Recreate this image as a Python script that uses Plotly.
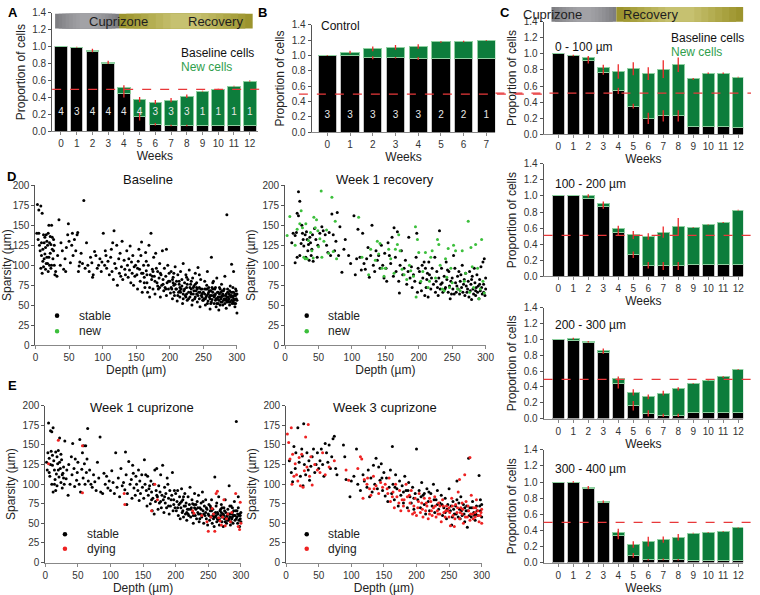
import plotly.graph_objects as go

W, H = 760, 595
FONT = "Liberation Sans, Arial, sans-serif"

# ---------------- bar data ----------------
weeks13 = list(range(13))
weeks8 = list(range(8))

a_base = [1.0, 0.99, 0.94, 0.80, 0.45, 0.18, 0.085, 0.07, 0.07, 0.075, 0.075, 0.075, 0.07]
a_total = [1.0, 0.995, 0.955, 0.815, 0.515, 0.375, 0.345, 0.37, 0.415, 0.475, 0.50, 0.535, 0.595]
a_err_total = [0.0, 0.005, 0.02, 0.02, 0.03, 0.03, 0.025, 0.025, 0.02, 0.005, 0.005, 0.005, 0.005]
a_err_base = [0.0, 0.0, 0.0, 0.0, 0.05, 0.05, 0.015, 0.01, 0.01, 0.0, 0.0, 0.0, 0.0]
a_n = [4, 3, 4, 4, 4, 4, 3, 3, 3, 1, 1, 1, 1]

b_base = [1.0, 1.0, 0.97, 0.97, 0.96, 0.96, 0.96, 0.96]
b_total = [1.0, 1.04, 1.085, 1.105, 1.115, 1.175, 1.18, 1.195]
b_err_total = [0.005, 0.02, 0.03, 0.03, 0.03, 0.01, 0.01, 0.005]
b_err_base = [0.0, 0.0, 0.02, 0.01, 0.02, 0.0, 0.0, 0.0]
b_n = [3, 3, 3, 3, 3, 2, 2, 1]

c1_base = [1.0, 0.98, 0.92, 0.77, 0.54, 0.35, 0.20, 0.23, 0.23, 0.10, 0.10, 0.10, 0.09]
c1_total = [1.0, 0.98, 0.955, 0.835, 0.78, 0.815, 0.755, 0.81, 0.865, 0.69, 0.76, 0.76, 0.71]
c1_err_total = [0.0, 0.01, 0.02, 0.03, 0.09, 0.08, 0.08, 0.11, 0.09, 0.01, 0.01, 0.01, 0.005]
c1_err_base = [0.0, 0.0, 0.04, 0.03, 0.04, 0.03, 0.07, 0.07, 0.07, 0.0, 0.0, 0.0, 0.0]

c2_base = [1.0, 1.0, 0.97, 0.87, 0.54, 0.27, 0.14, 0.13, 0.13, 0.15, 0.15, 0.15, 0.15]
c2_total = [1.0, 1.0, 1.0, 0.90, 0.60, 0.515, 0.495, 0.55, 0.615, 0.61, 0.64, 0.67, 0.825]
c2_err_total = [0.0, 0.0, 0.02, 0.03, 0.03, 0.05, 0.04, 0.07, 0.11, 0.005, 0.005, 0.005, 0.005]
c2_err_base = [0.0, 0.0, 0.0, 0.03, 0.03, 0.04, 0.04, 0.05, 0.05, 0.0, 0.0, 0.0, 0.0]

c3_base = [1.0, 0.99, 0.96, 0.83, 0.44, 0.16, 0.065, 0.04, 0.04, 0.075, 0.075, 0.075, 0.075]
c3_total = [1.0, 1.01, 0.97, 0.855, 0.50, 0.33, 0.275, 0.32, 0.375, 0.44, 0.485, 0.525, 0.62]
c3_err_total = [0.0, 0.01, 0.01, 0.03, 0.03, 0.04, 0.03, 0.03, 0.02, 0.005, 0.005, 0.01, 0.005]
c3_err_base = [0.0, 0.0, 0.0, 0.01, 0.06, 0.06, 0.04, 0.02, 0.02, 0.0, 0.0, 0.0, 0.0]

c4_base = [1.0, 0.99, 0.92, 0.745, 0.34, 0.09, 0.035, 0.04, 0.035, 0.03, 0.025, 0.025, 0.025]
c4_total = [1.0, 1.0, 0.93, 0.755, 0.37, 0.225, 0.26, 0.285, 0.315, 0.365, 0.375, 0.385, 0.43]
c4_err_total = [0.0, 0.01, 0.02, 0.015, 0.05, 0.04, 0.06, 0.04, 0.04, 0.005, 0.005, 0.005, 0.005]
c4_err_base = [0.0, 0.0, 0.0, 0.0, 0.05, 0.03, 0.01, 0.01, 0.01, 0.0, 0.0, 0.0, 0.0]

# ---------------- scatter data (depth um, sparsity um) ----------------
baseline_stable = [
    (3,176),(5,169),(8,174),(10,165),(2,140),(4,132),(6,125),(7,118),(9,112),(11,105),(12,98),(13,128),(14,135),
    (15,122),(16,138),(17,110),(18,102),(19,140),(20,150),(21,128),(22,115),(23,96),(24,150),(25,120),(26,108),
    (27,132),(28,100),(29,88),(30,92),(8,96),(10,90),(12,138),(15,95),(18,125),(20,110),(22,136),(25,135),(27,118),
    (5,140),(9,128),(13,108),(16,102),(19,92),(24,100),(28,125),(11,120),(17,130),(21,100),(14,114),(23,126),
    (32,86),(33,112),(35,157),(37,100),(38,128),(40,118),(42,95),(44,108),(46,122),(48,138),(49,152),(50,130),
    (52,103),(54,125),(56,112),(58,132),(60,118),(62,138),(63,141),(64,92),(66,104),(68,115),(70,102),(72,181),
    (74,96),(76,128),(78,100),(80,92),(82,110),(84,103),(86,88),(88,117),(90,112),(92,96),(94,100),(96,108),
    (98,92),(99,104),(45,92),(55,140),(65,99),(85,85),
    (101,140),(103,100),(104,118),(106,96),(108,105),(110,88),(112,110),(114,92),(115,128),(116,82),(117,143),
    (118,102),(120,96),(121,125),(122,75),(124,108),(125,90),(126,115),(128,98),(129,130),(130,82),(132,106),
    (133,95),(134,88),(136,118),(137,100),(138,85),(140,94),(141,124),(142,78),(143,104),(144,90),(145,112),
    (146,75),(147,98),(148,86),(149,100),(105,112),(113,120),(127,86),(139,108),
    (151,88),(152,70),(153,105),(155,95),(156,80),(157,112),(158,129),(159,66),(160,90),(161,100),(162,85),
    (163,72),(164,116),(165,93),(166,78),(168,100),(169,125),(170,60),(171,88),(172,140),(173,82),(174,95),
    (175,70),(176,110),(177,86),(178,64),(180,96),(181,78),(182,92),(183,70),(184,84),(185,102),(186,60),
    (187,88),(188,75),(189,118),(190,82),(191,68),(192,96),(193,72),(194,86),(195,62),(196,78),(197,100),
    (198,70),(199,90),(154,120),(167,66),(179,115),(195,120),
    (152,96),(158,90),(162,78),(166,88),(170,72),(174,86),(178,80),(182,74),(186,90),(190,76),(194,70),
    (198,80),(185,72),(175,92),(165,105),
    (200,80),(201,65),(202,92),(203,70),(204,58),(205,85),(206,75),(207,62),(208,98),(209,70),(210,80),
    (211,55),(212,88),(213,66),(214,76),(215,60),(216,92),(217,70),(218,82),(219,52),(220,102),(221,68),
    (222,78),(223,62),(224,88),(225,72),(226,56),(227,82),(228,66),(229,94),(230,60),(231,76),(232,70),
    (233,50),(234,84),(235,64),(236,74),(237,58),(238,90),(239,68),(240,78),(241,54),(242,97),(243,66),
    (244,72),(245,48),(246,82),(247,62),(248,70),(249,56),(225,85),(215,72),(232,80),(240,64),(206,90),
    (244,88),(220,58),(238,76),
    (202,72),(204,82),(206,66),(208,76),(210,70),(212,62),(214,80),(216,66),(218,74),(220,64),(222,70),
    (224,60),(226,76),(228,58),(230,72),(232,64),(234,56),(236,68),(238,60),(240,72),(242,62),(244,58),
    (246,70),(248,64),(245,66),(235,72),(225,64),(215,68),(205,78),(248,60),(241,70),(231,66),
    (250,66),(251,58),(252,80),(253,50),(254,70),(255,62),(256,92),(257,55),(258,72),(259,60),(260,45),
    (261,68),(262,110),(263,57),(264,78),(265,62),(266,52),(267,70),(268,64),(269,48),(270,84),(271,58),
    (272,66),(273,44),(274,72),(275,60),(276,54),(277,76),(278,62),(279,50),(280,68),(281,58),(282,86),
    (283,62),(284,46),(285,163),(286,70),(287,56),(288,64),(289,50),(290,74),(291,60),(292,101),(293,66),
    (294,54),(295,92),(296,62),(297,48),(298,70),(299,58),(300,40),(300,64),(252,64),(256,70),(260,58),
    (264,66),(268,56),(272,60),(276,66),(280,56),(284,64),(288,58),(292,62),(296,56),(298,52),(255,75),
    (265,80),(275,70),(285,60),(295,66),(270,52),(290,54),(262,62),(278,68),(294,72),
    (250,56),(252,70),(254,60),(256,52),(258,66),(260,62),(262,54),(264,70),(266,60),(268,72),(270,58),
    (272,52),(274,64),(276,58),(278,54),(280,62),(282,52),(284,58),(286,66),(288,54),(290,62),(292,56),
    (294,60),(296,52),(298,62),(299,68),(253,58),(257,64),(261,52),(267,62),(271,66),(275,50),(279,64),
    (283,56),(287,60),(291,66),(295,58),(297,64),(259,68),(263,72),(273,56),(281,70),(289,68),(293,52),
    (277,60),(269,58),(300,56),(285,54),
]

recovery_stable = [
    (15,103),(15,137),(17,141),(18,165),(20,162),(20,192),(22,180),(22,112),(24,127),(25,150),(26,140),
    (27,132),(28,124),(30,138),(31,110),(32,142),(34,118),(35,126),(36,106),(37,135),(38,128),(40,120),
    (41,138),(42,105),(44,146),(46,132),(48,110),(49,125),(10,128),(12,140),(18,110),(33,132),(39,112),
    (52,140),(55,148),(57,143),(60,138),(62,125),(64,116),(66,141),(68,112),(70,164),(72,138),(74,118),
    (76,130),(78,166),(80,112),(82,148),(85,91),(88,120),(90,132),(95,112),(98,102),
    (103,162),(105,88),(107,108),(109,145),(112,110),(114,94),(116,140),(118,102),(120,95),(122,108),
    (124,122),(126,85),(128,112),(130,150),(132,100),(134,92),(136,118),(138,106),(140,112),(142,96),
    (144,125),(146,100),(148,84),(149,115),
    (151,96),(152,80),(154,128),(156,112),(158,102),(160,135),(162,86),(163,147),(165,110),(166,92),
    (168,142),(170,80),(171,65),(172,100),(174,118),(176,88),(178,96),(180,106),(182,76),(184,92),
    (185,135),(187,84),(189,98),(190,72),(192,88),(194,80),(196,110),(197,140),(198,66),(199,96),
    (201,92),(202,78),(204,68),(205,100),(206,84),(208,104),(209,62),(210,96),(211,72),(212,82),(214,60),
    (215,104),(216,88),(218,70),(220,96),(222,76),(224,110),(225,66),(227,92),(228,72),(229,62),(230,84),
    (231,143),(232,70),(234,96),(235,78),(236,66),(238,86),(240,72),(241,104),(242,82),(244,66),(245,92),
    (246,74),(247,58),(248,80),(249,64),(213,90),(219,84),(226,80),(233,76),(239,70),(243,94),
    (250,84),(251,70),(252,112),(253,64),(254,96),(255,78),(256,66),(258,86),(259,70),(260,92),(261,64),
    (262,80),(264,72),(265,100),(266,66),(268,82),(269,62),(270,90),(271,74),(272,66),(274,80),(275,60),
    (276,92),(277,68),(278,76),(279,57),(280,86),(281,70),(282,64),(283,96),(284,78),(285,62),(286,72),
    (287,88),(288,66),(289,74),(290,58),(291,82),(292,68),(293,98),(294,72),(295,64),(296,104),(297,76),
    (298,108),(299,62),(300,70),(300,84),(257,74),(263,88),(267,76),(273,70),(279,82),(285,68),(291,76),
    (297,66),
]

recovery_new = [
    (3,137),(7,161),(15,125),(18,145),(22,152),(24,168),(26,147),(28,110),(30,108),(31,152),(33,108),
    (35,131),(38,141),(40,118),(42,109),(43,160),(45,147),(47,157),(49,143),(50,123),(52,133),(54,193),
    (55,110),(58,130),(62,144),(65,115),(70,185),(75,155),(72,117),(77,108),(110,160),(115,110),(125,88),
    (128,120),(135,106),(138,130),(140,114),(142,127),(145,96),(148,86),(150,96),(155,120),(158,108),
    (163,90),(165,120),(168,126),(170,138),(172,118),(175,95),(178,88),(182,82),(186,100),(188,93),
    (192,86),(195,148),(196,60),(198,132),(200,116),(203,80),(206,92),(210,116),(214,72),(216,80),
    (218,110),(220,118),(225,84),(228,132),(230,126),(232,100),(235,70),(238,68),(240,108),(242,85),
    (244,121),(246,72),(248,96),(250,78),(252,125),(255,118),(258,70),(262,68),(265,118),(268,80),
    (270,90),(274,155),(276,66),(278,122),(280,98),(282,72),(285,126),(288,96),(290,58),(292,70),
    (294,132),(296,80),(298,65),
]

cup1_stable = [
    (5,178),(8,168),(10,167),(12,172),(2,128),(3,118),(4,140),(6,133),(7,110),(8,125),(9,142),(10,100),
    (11,137),(12,90),(13,130),(14,118),(15,106),(16,141),(17,113),(18,98),(19,126),(20,143),(21,109),
    (22,159),(23,120),(24,102),(25,131),(26,95),(27,114),(28,122),(29,100),(30,155),(14,100),(18,135),
    (22,128),(26,112),(6,115),(16,92),(24,138),(11,124),(20,118),(28,108),
    (32,107),(33,118),(35,86),(36,125),(38,100),(40,135),(41,112),(42,152),(44,120),(45,97),(46,132),
    (48,105),(49,115),(50,128),(52,100),(53,157),(54,90),(56,119),(57,140),(58,108),(59,149),(60,126),
    (61,100),(62,149),(63,115),(64,132),(65,171),(66,104),(68,118),(70,100),(72,96),(74,112),(76,103),
    (78,92),(80,128),(82,108),(84,160),(85,90),(88,88),(90,114),(92,100),(94,110),(96,95),(98,104),
    (100,92),(102,117),(104,102),(106,88),(108,140),(110,96),(112,108),(114,84),(116,120),(118,98),
    (120,102),(122,93),(123,141),(124,112),(126,88),(128,129),(130,100),(132,106),(133,82),(134,124),
    (136,95),(138,86),(139,110),(140,100),(142,92),(144,79),(145,104),(146,88),(148,112),(149,96),
    (125,74),(135,114),(143,118),
    (151,82),(152,131),(153,100),(155,92),(156,72),(157,110),(158,86),(160,98),(161,75),(162,104),
    (163,90),(164,66),(165,82),(166,100),(168,118),(169,78),(170,92),(171,120),(172,84),(173,68),
    (174,98),(175,76),(176,90),(177,112),(178,70),(179,86),(180,124),(181,80),(182,64),(183,96),
    (184,76),(185,88),(186,70),(188,100),(189,82),(190,62),(191,92),(192,72),(194,86),(195,115),
    (196,66),(197,80),(198,92),(199,70),(154,112),(167,62),(187,108),
    (159,94),(163,80),(171,86),(177,78),(183,84),(189,72),(193,80),(197,74),
    (200,88),(201,66),(202,78),(203,92),(204,60),(205,74),(206,84),(207,56),(208,70),(209,94),(210,64),
    (211,80),(212,58),(213,72),(214,88),(215,62),(216,76),(217,54),(218,68),(219,84),(220,60),(221,74),
    (222,96),(223,58),(224,70),(225,80),(226,64),(227,50),(228,74),(229,88),(230,60),(231,68),(232,56),
    (233,78),(234,64),(235,86),(236,52),(237,70),(238,62),(239,76),(240,58),(241,90),(242,66),(243,50),
    (244,72),(245,60),(246,80),(247,56),(248,68),(249,48),(226,75),(234,70),(242,78),(212,84),(220,68),
    (246,64),(203,70),(207,76),(211,66),(215,72),(219,62),(223,68),(227,60),(231,74),(235,62),(239,68),
    (243,62),(247,70),(209,78),(217,64),(229,70),(237,56),
    (250,62),(251,74),(252,54),(253,66),(254,58),(255,80),(256,50),(257,68),(258,62),(259,46),(260,109),
    (261,58),(262,72),(263,52),(264,64),(265,56),(266,84),(267,48),(268,66),(269,60),(270,74),(271,52),
    (272,62),(273,46),(274,70),(275,56),(276,80),(277,64),(278,50),(279,60),(280,68),(281,54),(282,98),
    (283,62),(284,48),(285,72),(286,56),(287,64),(288,50),(289,60),(290,78),(291,54),(292,66),(293,180),
    (294,58),(295,50),(296,70),(297,60),(298,46),(299,56),(300,64),(300,52),(254,70),(258,56),(262,60),
    (266,54),(270,64),(274,60),(278,58),(282,56),(286,62),(290,60),(294,66),(298,62),(263,76),(283,72),
    (296,84),(251,60),(255,66),(259,58),(261,64),(265,62),(267,56),(269,68),(271,58),(273,62),(275,66),
    (277,56),(279,54),(281,62),(283,58),(285,52),(287,58),(289,66),(291,60),(293,56),(295,62),(297,54),
    (299,60),(257,60),(253,72),(271,70),(287,70),(276,52),(264,56),
]

cup1_dying = [
    (5,126),(20,156),(57,149),(57,89),(121,88),(122,74),(163,66),(168,100),(172,80),(226,66),(228,63),
    (240,60),(248,52),(250,40),(254,58),(256,69),(258,62),(260,40),(262,88),(264,91),(266,57),(268,53),
    (270,48),(272,58),(274,80),(276,47),(278,56),(280,62),(284,52),(286,64),(292,88),(296,46),(298,42),
    (299,77),(300,50),
]

cup3_stable = [
    (5,130),(8,115),(10,103),(12,148),(14,120),(15,140),(18,172),(20,128),(22,110),(24,145),(25,136),
    (26,98),(27,177),(28,125),(30,112),(32,140),(34,118),(35,130),(36,105),(38,123),(40,135),(42,145),
    (44,115),(46,125),(48,140),(50,120),(52,130),(54,145),(56,125),(58,110),(60,152),(62,140),(64,128),
    (66,150),(68,120),(70,135),(72,158),(74,161),(76,120),(78,112),(88,150),(90,135),(92,106),(98,84),
    (100,104),(104,110),(108,145),(110,100),(114,92),(118,112),(120,104),(124,96),(126,118),(128,84),
    (130,108),(132,90),(134,124),(136,100),(138,133),(140,94),(142,122),(144,105),(146,126),(148,92),
    (150,115),(152,85),(154,108),(156,78),(158,96),(160,118),(162,88),(163,148),(164,100),(166,80),
    (168,112),(170,94),(172,72),(174,104),(176,86),(178,98),(180,76),(182,110),(184,92),(186,70),
    (188,102),(190,84),(192,76),(194,96),(196,68),(198,88),(200,145),(202,80),(204,92),(206,70),
    (208,102),(210,86),(212,74),(214,62),(216,94),(218,78),(220,66),(222,88),(224,72),(226,100),
    (228,64),(230,80),(232,92),(234,68),(236,76),(238,86),(240,60),(242,70),(244,82),(246,56),(248,74),
    (250,94),(252,66),(254,48),(256,78),(258,62),(260,72),(262,104),(264,58),(266,68),(268,84),(270,60),
    (272,74),(274,52),(276,66),(278,45),(280,133),(282,70),(284,58),(286,78),(288,64),(290,54),(292,72),
    (294,60),(296,111),(298,66),(300,74),(300,58),(244,64),(262,80),(286,62),(274,70),(232,74),(212,88),
    (196,82),(180,90),(298,80),(253,72),(257,68),(261,62),(265,76),(269,66),(273,62),(277,72),(281,60),
    (285,70),(289,60),(293,66),(297,72),(255,58),(267,56),(279,66),(291,62),(247,68),(239,74),(227,80),
    (219,90),(207,84),(187,92),(167,96),(147,108),
]

cup3_dying = [
    (2,164),(4,153),(6,132),(8,172),(9,100),(10,138),(12,110),(14,126),(16,112),(18,104),(20,134),
    (22,98),(24,138),(26,96),(28,117),(30,160),(32,122),(34,176),(36,110),(38,135),(40,99),(44,125),
    (48,118),(52,115),(56,140),(60,112),(66,122),(74,130),(92,118),(96,105),(110,120),(114,135),
    (116,132),(118,82),(120,106),(124,100),(128,94),(130,86),(134,110),(138,98),(142,88),(148,96),
    (152,100),(156,88),(158,108),(160,78),(164,90),(166,70),(168,100),(170,84),(174,92),(176,66),
    (178,80),(180,72),(184,100),(186,84),(188,66),(190,76),(192,92),(194,62),(196,72),(198,82),
    (200,60),(202,70),(204,88),(206,64),(208,76),(210,58),(212,82),(214,66),(216,72),(218,56),
    (220,62),(222,78),(224,60),(226,70),(228,84),(230,58),(232,66),(234,76),(236,62),(238,52),
    (240,80),(242,64),(244,58),(246,72),(248,66),(250,70),(252,47),(254,82),(256,60),(258,46),
    (260,74),(262,64),(264,90),(266,56),(268,70),(270,62),(272,50),(274,112),(276,78),(278,58),
    (280,66),(282,54),(284,86),(286,62),(288,70),(290,58),(292,80),(294,66),(296,52),(298,60),
    (300,68),(300,50),(282,134),(266,106),(250,58),(236,72),(220,82),(270,76),(290,64),
    (251,64),(255,72),(259,56),(263,70),(267,64),(271,68),(275,58),(279,72),(283,62),(287,56),(291,70),
    (295,60),(299,64),(245,66),(241,72),(233,62),(229,72),(223,66),(215,76),(209,68),(203,78),(197,64),
    (189,86),(181,80),(173,76),(163,84),(155,94),(145,102),(135,94),(125,108),
]

# ---------------- styling ----------------
BLACK = "#000000"
GREEN = "#0d7d3c"
GREEN_EDGE = "#8fd0a0"
GREEN_TXT = "#2f9e4c"
NEW_PT = "#3cbf3c"
RED_PT = "#ee2222"
ERR_RED = "#ee2a2a"
AXC = "#555555"


def dx(l, r):
    return [l / W, r / W]


def dy(t, b):
    return [1 - b / H, 1 - t / H]


def px(x):
    return x / W


def py(y):
    return 1 - y / H


fig = go.Figure()
layout = {}
annotations = []
shapes = []


def set_axes(i, xdom, ydom, xr, yr, xtick, ytick, xtitle, ytitle, yfmt=None):
    xs = "xaxis" if i == 1 else f"xaxis{i}"
    ys = "yaxis" if i == 1 else f"yaxis{i}"
    xid = "x" if i == 1 else f"x{i}"
    yid = "y" if i == 1 else f"y{i}"
    layout[xs] = dict(domain=xdom, range=xr, anchor=yid, tickvals=xtick, showline=True,
                      linecolor="#888888", linewidth=1, ticks="outside", ticklen=3, tickcolor="#888888",
                      showgrid=False, zeroline=False, tickfont=dict(size=10, color="#333333"),
                      title=dict(text=xtitle, font=dict(size=12, color="#222222"), standoff=2))
    layout[ys] = dict(domain=ydom, range=yr, anchor=xid, tickvals=ytick, showline=True,
                      linecolor=AXC, linewidth=1, ticks="outside", ticklen=3, tickcolor=AXC,
                      showgrid=False, zeroline=False, tickfont=dict(size=10, color="#333333"),
                      title=dict(text=ytitle, font=dict(size=12, color="#222222"), standoff=4))
    if yfmt:
        layout[ys]["tickformat"] = yfmt
    return xid, yid


def bar_panel(i, xdom, ydom, xr, weeks, base, total, err_t, err_b, ns=None):
    xid, yid = set_axes(i, xdom, ydom, xr, [0, 1.4], weeks, [0, 0.2, 0.4, 0.6, 0.8, 1.0, 1.2, 1.4],
                        "Weeks", "Proportion of cells", ".1f")
    fig.add_bar(x=weeks, y=base, width=0.8, xaxis=xid, yaxis=yid,
                marker=dict(color=BLACK, line=dict(color="#c4c4c4", width=1)))
    fig.add_bar(x=weeks, y=[t - b for t, b in zip(total, base)], width=0.8, xaxis=xid, yaxis=yid,
                marker=dict(color=GREEN, line=dict(color=GREEN_EDGE, width=1)))
    fig.add_scatter(x=weeks, y=base, mode="markers", marker=dict(opacity=0, size=1), xaxis=xid, yaxis=yid,
                    error_y=dict(type="data", array=err_b, color=ERR_RED, thickness=1.3, width=0))
    fig.add_scatter(x=weeks, y=total, mode="markers", marker=dict(opacity=0, size=1), xaxis=xid, yaxis=yid,
                    error_y=dict(type="data", array=err_t, color=ERR_RED, thickness=1.3, width=0))
    if ns:
        fig.add_scatter(x=weeks, y=[0.22] * len(weeks), mode="text", text=[str(n) for n in ns],
                        textfont=dict(size=10, color="#e8e8e8", family=FONT), xaxis=xid, yaxis=yid)


def scatter_panel(i, xdom, ydom, groups, title, title_xy):
    xid, yid = set_axes(i, xdom, ydom, [0, 300], [0, 200], [0, 50, 100, 150, 200, 250, 300],
                        [0, 25, 50, 75, 100, 125, 150, 175, 200], "Depth (µm)", "Sparsity (µm)")
    for pts, col in groups:
        fig.add_scatter(x=[p[0] for p in pts], y=[p[1] for p in pts], mode="markers", xaxis=xid, yaxis=yid,
                        marker=dict(color=col, size=3, line=dict(width=0)), cliponaxis=False)
    annotations.append(dict(x=px(title_xy[0]), y=py(title_xy[1]), xref="paper", yref="paper", text=title,
                            showarrow=False, font=dict(size=13, color="#111111"), xanchor="center",
                            yanchor="middle"))


# Bar panels
bar_panel(1, dx(49, 258), dy(7, 128), [-0.56, 12.5], weeks13, a_base, a_total, a_err_total, a_err_base, a_n)
bar_panel(2, dx(313, 500), dy(19, 129), [-0.69, 7.4], weeks8, b_base, b_total, b_err_total, b_err_base, b_n)
cx = dx(549, 752)
cxr = [-0.98, 12.33]
bar_panel(3, cx, dy(16, 131), cxr, weeks13, c1_base, c1_total, c1_err_total, c1_err_base)
bar_panel(4, cx, dy(161, 276), cxr, weeks13, c2_base, c2_total, c2_err_total, c2_err_base)
bar_panel(5, cx, dy(308, 421), cxr, weeks13, c3_base, c3_total, c3_err_total, c3_err_base)
bar_panel(6, cx, dy(453, 568), cxr, weeks13, c4_base, c4_total, c4_err_total, c4_err_base)

# Scatter panels
scatter_panel(7, dx(32, 237), dy(183, 346), [(baseline_stable, BLACK)], "Baseline", (147, 177))
scatter_panel(8, dx(286, 490), dy(183, 346), [(recovery_stable, BLACK), (recovery_new, NEW_PT)],
              "Week 1 recovery", (388, 177))
scatter_panel(9, dx(42, 241), dy(408, 568), [(cup1_stable, BLACK), (cup1_dying, RED_PT)],
              "Week 1 cuprizone", (140, 410))
scatter_panel(10, dx(287, 486), dy(408, 568), [(cup3_stable, BLACK), (cup3_dying, RED_PT)],
              "Week 3 cuprizone", (388, 410))

# Red dashed 0.5 reference lines (paper coords)
for x0, x1, yy in [(49, 266, 85), (300, 548, 90), (500, 760, 89), (549, 760, 234), (549, 760, 381),
                   (549, 760, 527)]:
    shapes.append(dict(type="line", xref="paper", yref="paper", x0=px(x0), x1=px(x1), y0=py(yy), y1=py(yy),
                       line=dict(color="#e8383a", width=1.2, dash="dash")))


# Header bars (Cuprizone / Recovery) with soft gradient
def header(x0, xm, x1, y0, y1, fs):
    grey = ["#7e7e82", "#848488", "#8a8a8e", "#909094", "#959599", "#9a9a9e", "#9e9ea2", "#a2a2a6"]
    olive = ["#9c942e", "#a29a36", "#a8a13f", "#aea748", "#b4ae52", "#bab45c", "#c0ba66", "#c6c170"]
    for k, c in enumerate(grey):
        inset = k * (xm - x0) * 0.055
        shapes.append(dict(type="rect", xref="paper", yref="paper", x0=px(x0 + inset), x1=px(xm - inset),
                           y0=py(y1), y1=py(y0), fillcolor=c, line=dict(width=0), layer="below"))
    for k, c in enumerate(olive):
        inset = k * (x1 - xm) * 0.055
        shapes.append(dict(type="rect", xref="paper", yref="paper", x0=px(xm + inset), x1=px(x1 - inset),
                           y0=py(y1), y1=py(y0), fillcolor=c, line=dict(width=0), layer="below"))
    annotations.append(dict(x=px((x0 + xm) / 2), y=py((y0 + y1) / 2), xref="paper", yref="paper",
                            text="Cuprizone", showarrow=False, yanchor="middle",
                            font=dict(size=fs, color="#1e1e1e")))
    annotations.append(dict(x=px((xm + x1) / 2), y=py((y0 + y1) / 2), xref="paper", yref="paper",
                            text="Recovery", showarrow=False, yanchor="middle",
                            font=dict(size=fs, color="#1e1e1e")))


header(52, 117, 253, 8, 23, 13)
header(557, 623, 752, 1, 16, 13)


def text(x, y, s, size=12, color="#111111", anchor="left", bold=False):
    annotations.append(dict(x=px(x), y=py(y), xref="paper", yref="paper", text=f"<b>{s}</b>" if bold else s,
                            showarrow=False, xanchor=anchor, yanchor="middle",
                            font=dict(size=size, color=color)))


# Legends for bar panels
text(178, 48, "Baseline cells", 12, "#111111")
text(178, 62, "New cells", 12, GREEN_TXT)
text(677, 33, "Baseline cells", 12, "#111111")
text(677, 47, "New cells", 12, GREEN_TXT)

# Panel labels
text(320, 20, "Control", 12)
text(559, 42, "0 - 100 µm", 12)
text(559, 182, "100 - 200 µm", 12)
text(559, 326, "200 - 300 µm", 12)
text(559, 473, "300 - 400 µm", 12)

for lab, x, y in [("A", 2, 7), ("B", 256, 7), ("C", 503, 7), ("D", 1, 174), ("E", 2, 387)]:
    text(x, y, lab, 13, "#000000", bold=True)


# Scatter legends
def scat_legend(x, y1, y2, c2, lab2):
    for yy, c in [(y1, BLACK), (y2, c2)]:
        shapes.append(dict(type="circle", xref="paper", yref="paper", x0=px(x - 2.3), x1=px(x + 2.3),
                           y0=py(yy + 2.3), y1=py(yy - 2.3), fillcolor=c, line=dict(width=0)))
    text(x + 20, y1, "stable", 12, "#222222")
    text(x + 20, y2, lab2, 12, "#222222")


scat_legend(54, 316, 332, NEW_PT, "new")
scat_legend(308, 316, 332, NEW_PT, "new")
scat_legend(62, 539, 554, RED_PT, "dying")
scat_legend(308, 539, 554, RED_PT, "dying")

fig.update_layout(
    width=W, height=H, margin=dict(l=0, r=0, t=0, b=0), barmode="stack", bargap=0.2,
    showlegend=False, plot_bgcolor="white", paper_bgcolor="white",
    font=dict(family=FONT, color="#222222"),
    annotations=annotations, shapes=shapes, **layout,
)

fig.write_html("out.html", config={"displayModeBar": False},
               post_script="document.body.style.margin='0px';")
